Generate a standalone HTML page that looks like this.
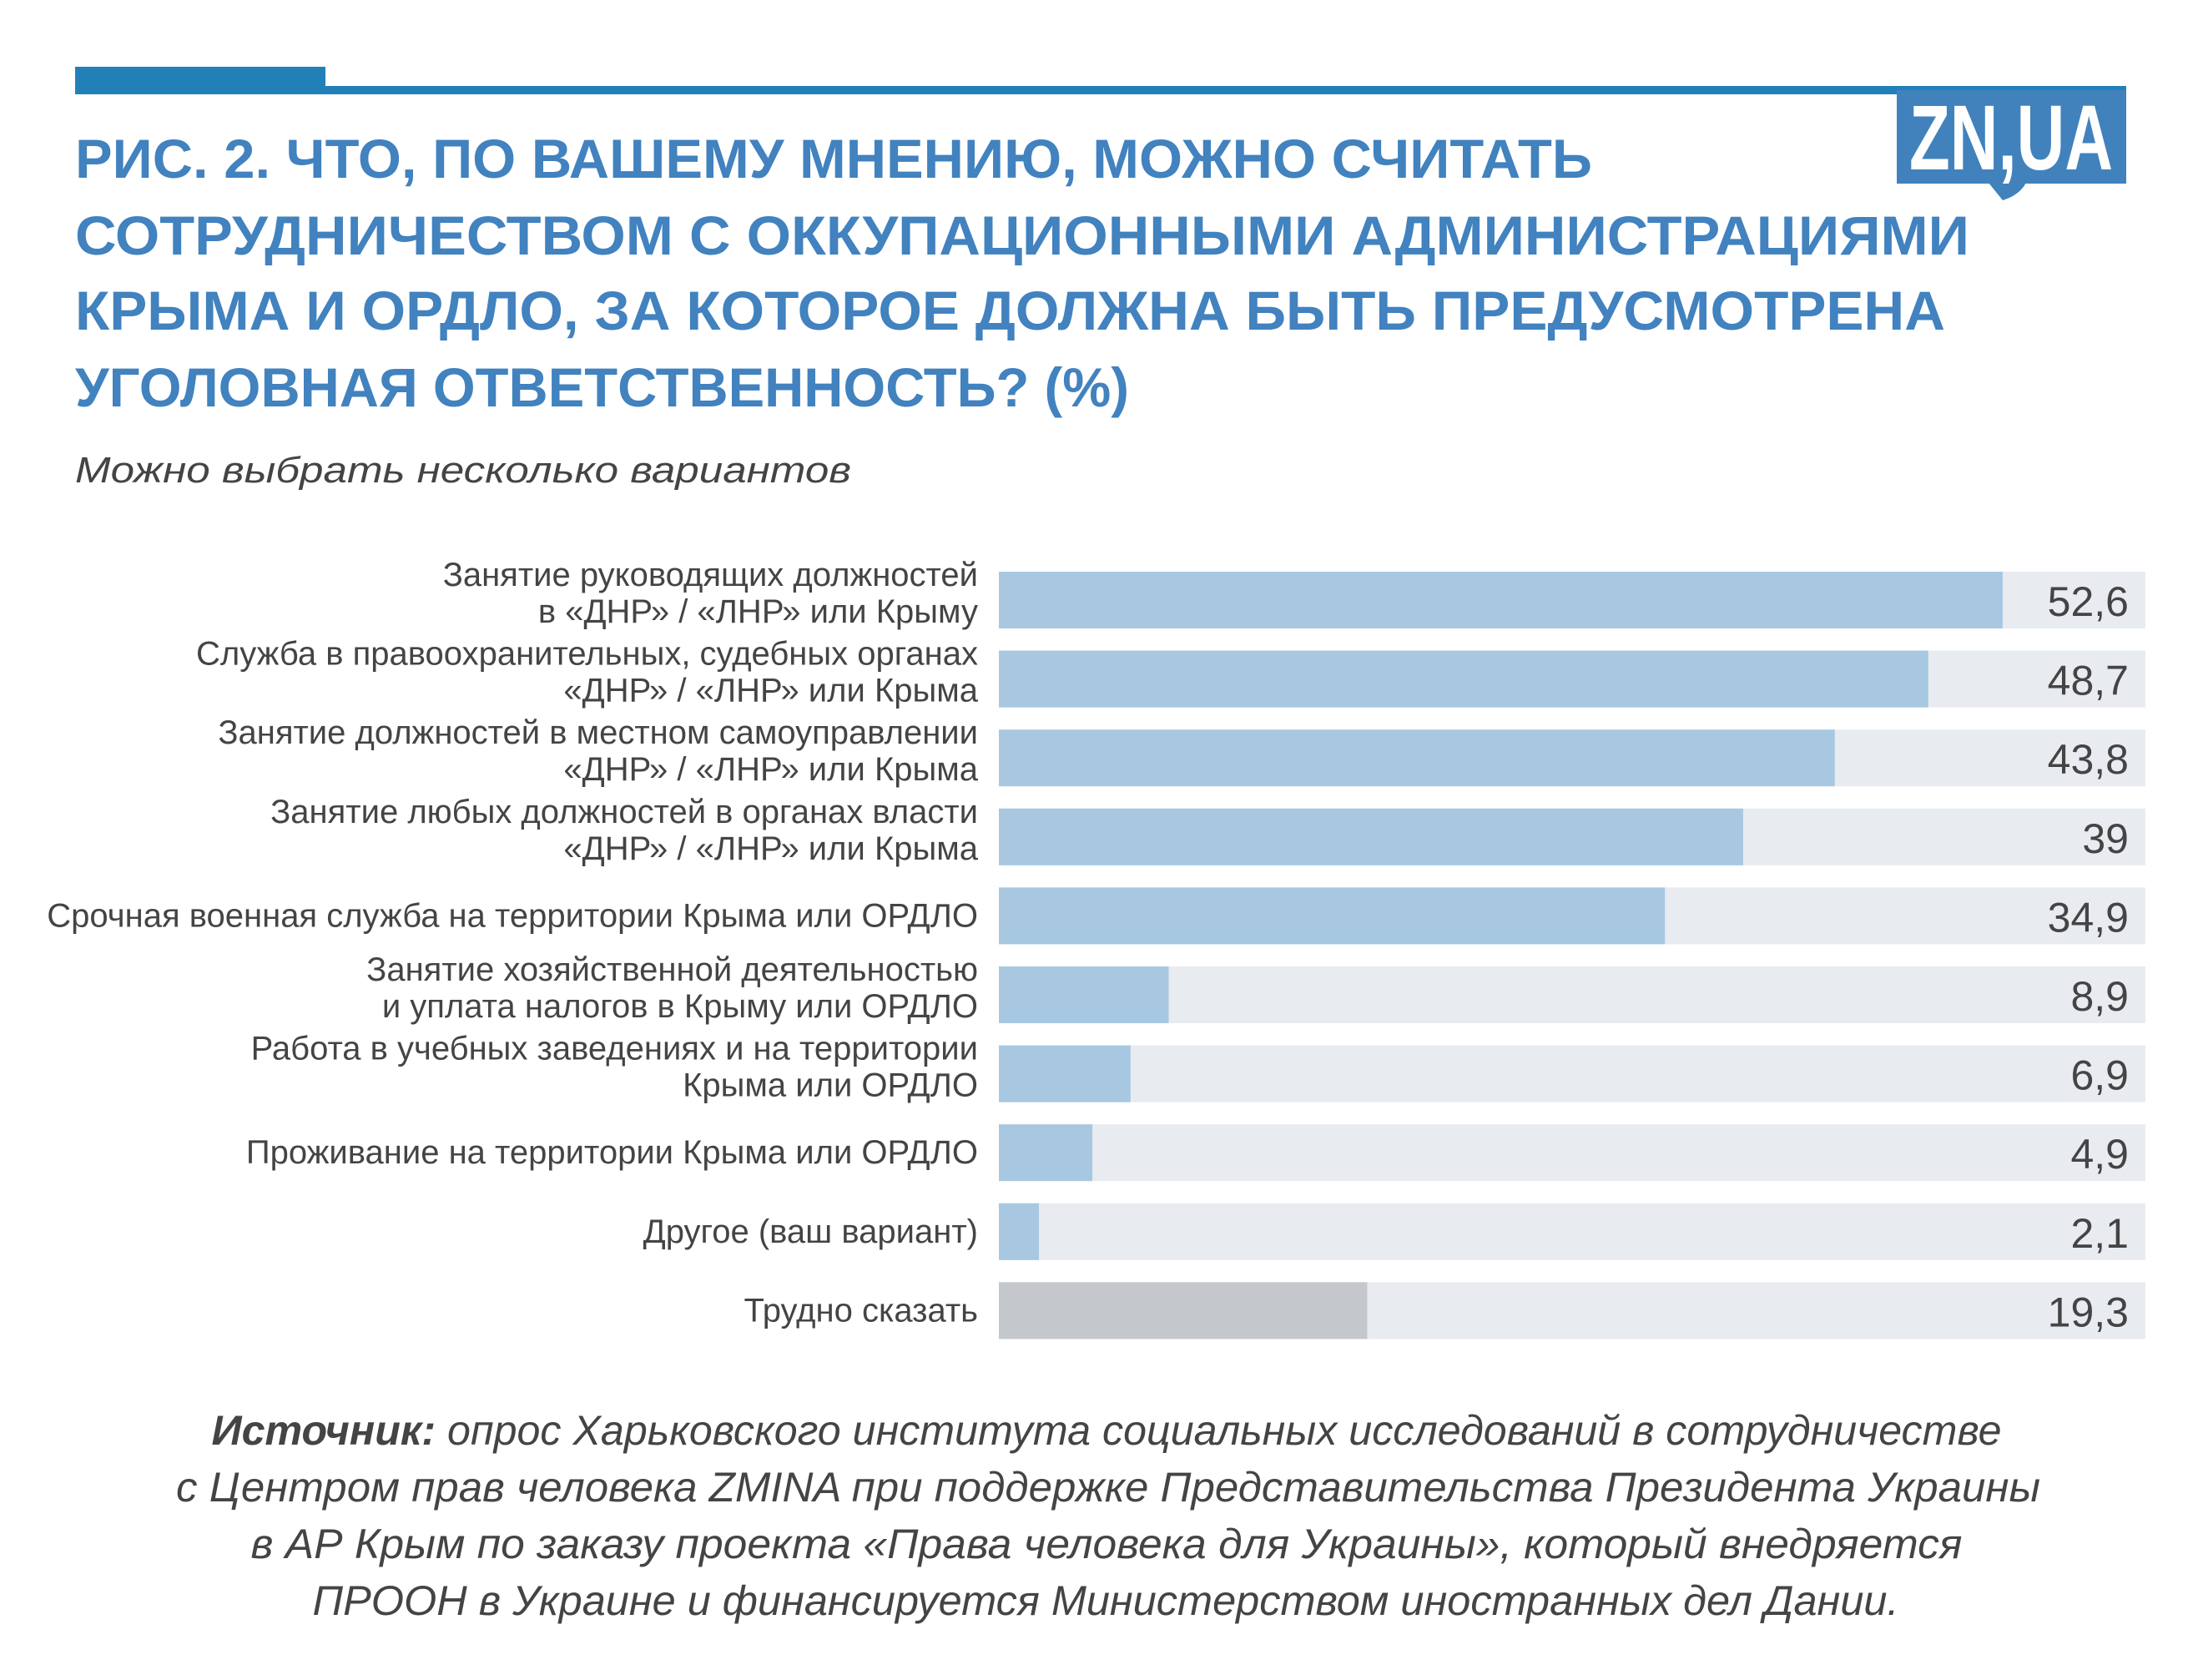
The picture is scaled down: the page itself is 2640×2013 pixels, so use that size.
<!DOCTYPE html>
<html><head><meta charset="utf-8">
<style>
html,body{margin:0;padding:0;background:#fff;}
svg{display:block;}
text{font-family:"Liberation Sans","Noto Sans CJK SC",sans-serif;}
</style></head>
<body>
<svg id="chart" width="2640" height="2013" viewBox="0 0 2640 2013" xmlns="http://www.w3.org/2000/svg">
<rect x="0" y="0" width="2640" height="2013" fill="#ffffff"/>
<rect x="90" y="80" width="300" height="33" fill="#2280b9"/>
<rect x="90" y="103" width="2458" height="10" fill="#2280b9"/>
<g>
<rect x="2273" y="108" width="275" height="112" fill="#4182bd"/>
<path d="M2383 219 L2428 219 Q2420 234 2400 240 Z" fill="#4182bd"/>
<text x="2288" y="203" font-size="110" font-weight="bold" fill="#ffffff" textLength="244" lengthAdjust="spacingAndGlyphs">ZN,UA</text>
</g>
<g fill="#4182bf" font-weight="bold" font-size="66">
<text x="90" y="213" textLength="1818" lengthAdjust="spacingAndGlyphs">РИС. 2. ЧТО, ПО ВАШЕМУ МНЕНИЮ, МОЖНО СЧИТАТЬ</text>
<text x="90" y="305" textLength="2270" lengthAdjust="spacingAndGlyphs">СОТРУДНИЧЕСТВОМ С ОККУПАЦИОННЫМИ АДМИНИСТРАЦИЯМИ</text>
<text x="90" y="395" textLength="2241" lengthAdjust="spacingAndGlyphs">КРЫМА И ОРДЛО, ЗА КОТОРОЕ ДОЛЖНА БЫТЬ ПРЕДУСМОТРЕНА</text>
<text x="90" y="487" textLength="1263" lengthAdjust="spacingAndGlyphs">УГОЛОВНАЯ ОТВЕТСТВЕННОСТЬ? (%)</text>
</g>
<text x="90" y="578" font-size="44" font-style="italic" fill="#444444" textLength="930" lengthAdjust="spacingAndGlyphs">Можно выбрать несколько вариантов</text>
<g id="bars"></g>
<g fill="#444444" font-size="50" font-style="italic" text-anchor="middle">
<text x="1326" y="1731" textLength="2145" lengthAdjust="spacingAndGlyphs"><tspan font-weight="bold">Источник:</tspan> опрос Харьковского института социальных исследований в сотрудничестве</text>
<text x="1328" y="1799" textLength="2234" lengthAdjust="spacingAndGlyphs">с Центром прав человека ZMINA при поддержке Представительства Президента Украины</text>
<text x="1326" y="1867" textLength="2051" lengthAdjust="spacingAndGlyphs">в АР Крым по заказу проекта «Права человека для Украины», который внедряется</text>
<text x="1325" y="1935" textLength="1901" lengthAdjust="spacingAndGlyphs">ПРООН в Украине и финансируется Министерством иностранных дел Дании.</text>
</g>
</svg>
<script>
const categories = [
  ["Занятие руководящих должностей","в «ДНР» / «ЛНР» или Крыму"],
  ["Служба в правоохранительных, судебных органах","«ДНР» / «ЛНР» или Крыма"],
  ["Занятие должностей в местном самоуправлении","«ДНР» / «ЛНР» или Крыма"],
  ["Занятие любых должностей в органах власти","«ДНР» / «ЛНР» или Крыма"],
  ["Срочная военная служба на территории Крыма или ОРДЛО"],
  ["Занятие хозяйственной деятельностью","и уплата налогов в Крыму или ОРДЛО"],
  ["Работа в учебных заведениях и на территории","Крыма или ОРДЛО"],
  ["Проживание на территории Крыма или ОРДЛО"],
  ["Другое (ваш вариант)"],
  ["Трудно сказать"]
];
const values = [52.6, 48.7, 43.8, 39, 34.9, 8.9, 6.9, 4.9, 2.1, 19.3];
const valueLabels = ["52,6","48,7","43,8","39","34,9","8,9","6,9","4,9","2,1","19,3"];
const highlight = [false,false,false,false,false,false,false,false,false,true];

const NS = "http://www.w3.org/2000/svg";
const g = document.getElementById('bars');
const x0 = 1197, trackW = 1374, pxPerUnit = 22.87;
const y0 = 685, pitch = 94.6, barH = 68;
function xScale(v){ return x0 + v * pxPerUnit; }
function yScale(i){ return y0 + i * pitch; }
function mk(tag, attrs){ const e = document.createElementNS(NS, tag); for (const k in attrs) e.setAttribute(k, attrs[k]); return e; }

categories.forEach((lines, i) => {
  const y = yScale(i), cy = y + barH/2;
  const track = mk('rect', {x:x0, y:y, width:trackW, height:barH, fill:'#e8ebf0'});
  
  
  g.appendChild(track);
  const bar = mk('rect', {x:x0, y:y, width:xScale(values[i]) - x0, height:barH, fill: highlight[i] ? '#c4c7cc' : '#a8c8e1'});
  
  
  g.appendChild(bar);
  const val = mk('text', {x:2551, y:cy + 19, 'font-size':50, fill:'#444444', 'text-anchor':'end'});
  val.textContent = valueLabels[i];
  
  
  g.appendChild(val);
  const lab = mk('text', {'font-size':40, fill:'#444444', 'text-anchor':'end'});
  
  
  if (lines.length === 1) {
    const t = mk('tspan', {x:1172, y:cy + 13}); t.textContent = lines[0]; lab.appendChild(t);
  } else {
    const t1 = mk('tspan', {x:1172, y:cy - 17}); t1.textContent = lines[0]; lab.appendChild(t1);
    const t2 = mk('tspan', {x:1172, y:cy + 27}); t2.textContent = lines[1]; lab.appendChild(t2);
  }
  g.appendChild(lab);
});
</script>
</body></html>
